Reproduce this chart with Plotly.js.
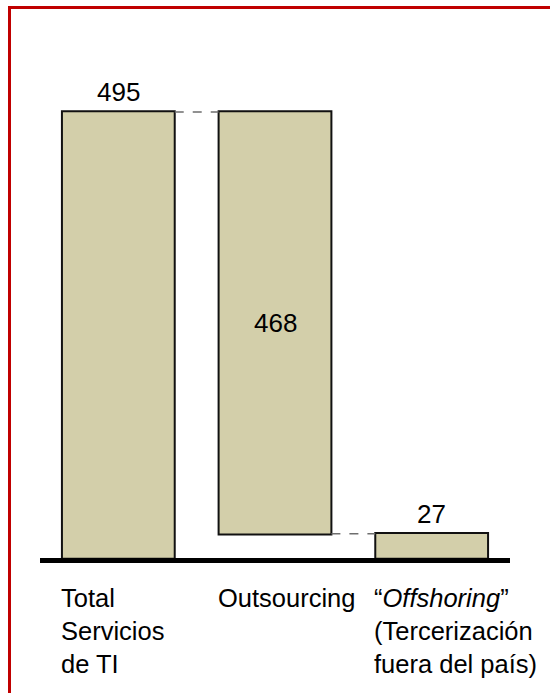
<!DOCTYPE html>
<html>
<head>
<meta charset="utf-8">
<script src="https://cdn.plot.ly/plotly-3.0.1.min.js"></script>
<style>
  html, body { margin: 0; padding: 0; background: #ffffff; }
  #wrap { position: relative; width: 550px; height: 693px; overflow: hidden; }
  #chart { position: absolute; left: 0; top: 0; width: 550px; height: 693px; }
  /* red frame: top and left edges, running off the page to the right and bottom */
  #frame {
    position: absolute; left: 8px; top: 6px; right: -10px; bottom: -10px;
    border-top: 3px solid #C00000; border-left: 3px solid #C00000;
    pointer-events: none;
  }
</style>
</head>
<body>
<div id="wrap">
  <div id="chart"></div>
  <div id="frame"></div>
</div>
<script>
// IT services spending breakdown (waterfall: total -> outsourcing -> offshoring)
const categories = ["Total Servicios de TI", "Outsourcing", "Offshoring"];
const categoryLabels = [
  "Total<br>Servicios<br>de TI",
  "Outsourcing",
  "\u201C<i>Offshoring</i>\u201D<br>(Tercerización<br>fuera del país)"
];
const values = [495, 468, 27];
const measures = ["absolute", "relative", "total"];
const signedValues = [values[0], -values[1], values[2]];

const FONT = "Liberation Sans, Arial, Helvetica, sans-serif";
const FILL = "#D3CFAA";
const GAP = 0.28;
const BAR_HALF = (1 - GAP) / 2;

// level at which each bar ends (top for totals, bottom for the decrease)
const ends = [];
let running = 0;
measures.forEach((m, i) => {
  if (m === "absolute") running = signedValues[i];
  else if (m === "relative") running += signedValues[i];
  ends.push(running);
});

const barStyle = { color: FILL, line: { color: "#111111", width: 2 } };

const trace = {
  type: "waterfall",
  x: categories,
  y: signedValues,
  measure: measures,
  orientation: "v",
  textposition: "none",
  hoverinfo: "skip",
  increasing: { marker: barStyle },
  decreasing: { marker: barStyle },
  totals: { marker: barStyle },
  connector: { mode: "between", line: { color: "#6e6e6e", width: 1.5, dash: "dash" } }
};

const annotations = [];
// value labels
categories.forEach((c, i) => {
  if (measures[i] === "relative") {
    const top = ends[i] + values[i];
    annotations.push({
      x: c, y: (top + ends[i]) / 2, xref: "x", yref: "y",
      text: String(values[i]), showarrow: false,
      xanchor: "center", yanchor: "middle",
      font: { family: FONT, size: 26, color: "#000000" }
    });
  } else {
    annotations.push({
      x: c, y: ends[i], xref: "x", yref: "y",
      text: String(values[i]), showarrow: false,
      xanchor: "center", yanchor: "bottom", yshift: 3,
      font: { family: FONT, size: 26, color: "#000000" }
    });
  }
});
// category labels, left-aligned under each bar
categories.forEach((c, i) => {
  annotations.push({
    x: i - BAR_HALF, y: 0, xref: "x", yref: "y",
    text: categoryLabels[i], showarrow: false,
    xanchor: "left", yanchor: "top", align: "left", yshift: -24,
    xshift: -3,
    font: { family: FONT, size: 25.5, color: "#000000" }
  });
});

const layout = {
  width: 550, height: 693,
  margin: { l: 40, r: 40, t: 60, b: 135 },
  paper_bgcolor: "#ffffff", plot_bgcolor: "#ffffff",
  showlegend: false,
  waterfallgap: GAP,
  font: { family: FONT, size: 26, color: "#000000" },
  xaxis: {
    type: "category", range: [-0.5, 2.5],
    showticklabels: false, ticks: "", showgrid: false, zeroline: false,
    showline: true, linecolor: "#000000", linewidth: 5
  },
  yaxis: {
    range: [0, 552.7], visible: false, showgrid: false, zeroline: false
  },
  annotations: annotations
};

Plotly.newPlot("chart", [trace], layout, { displayModeBar: false, staticPlot: true });
</script>
</body>
</html>
